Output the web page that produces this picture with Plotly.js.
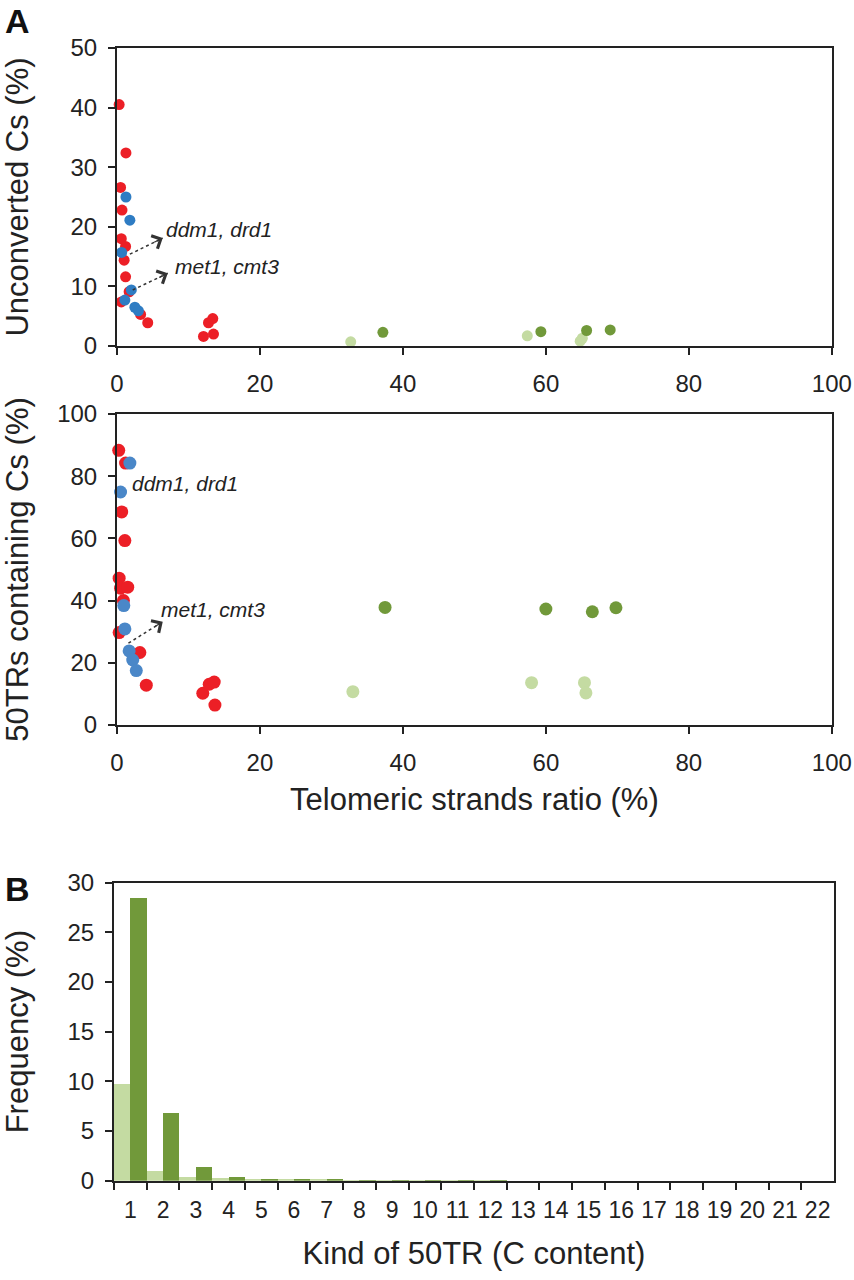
<!DOCTYPE html>
<html>
<head>
<meta charset="utf-8">
<script src="https://cdn.plot.ly/plotly-3.0.1.min.js"></script>
<style>
  html, body { margin: 0; padding: 0; background: #fff; }
  #fig { width: 854px; height: 1280px; }
</style>
</head>
<body>
<div id="fig"></div>
<script>
// ---- panel A, top: unconverted Cs vs telomeric strands ratio ----
var redX1   = [0.3, 1.25, 0.5, 0.7, 0.6, 1.2, 1.0, 1.2, 1.7, 0.6, 3.3, 4.3, 12.1, 12.8, 13.4, 13.5];
var redY1   = [40.5, 32.4, 26.6, 22.8, 18.0, 16.7, 14.4, 11.6, 9.1, 7.4, 5.3, 3.9, 1.6, 3.9, 4.6, 2.0];
var blueX1  = [1.25, 1.8, 0.65, 2.0, 1.1, 2.5, 3.0];
var blueY1  = [25.0, 21.1, 15.7, 9.4, 7.7, 6.5, 5.9];
var lightX1 = [32.7, 57.4, 64.8, 65.1];
var lightY1 = [0.7, 1.7, 0.8, 1.3];
var darkX1  = [37.2, 59.3, 65.7, 69.0];
var darkY1  = [2.3, 2.4, 2.6, 2.7];

// ---- panel A, bottom: 50TRs containing Cs vs telomeric strands ratio ----
var redX2   = [0.24, 1.2, 0.66, 1.1, 0.3, 0.5, 1.5, 0.9, 0.3, 3.2, 4.1, 12.0, 12.9, 13.6, 13.7];
var redY2   = [88.3, 84.2, 68.5, 59.3, 47.2, 44.0, 44.3, 40.0, 29.7, 23.3, 12.8, 10.2, 13.1, 13.8, 6.4];
var blueX2  = [1.8, 0.5, 0.95, 1.1, 1.7, 2.2, 2.7];
var blueY2  = [84.2, 74.9, 38.4, 30.9, 23.8, 20.9, 17.5];
var lightX2 = [33.0, 58.0, 65.4, 65.6];
var lightY2 = [10.7, 13.6, 13.6, 10.3];
var darkX2  = [37.5, 60.0, 66.5, 69.8];
var darkY2  = [37.8, 37.3, 36.4, 37.7];

// ---- panel B: frequency of 50TR kinds ----
var kinds     = ['1','2','3','4','5','6','7','8','9','10','11','12','13','14','15','16','17','18','19','20','21','22'];
var freqLight = [9.7, 1.0, 0.35, 0.3, 0.15, 0.2, 0.15, 0.08, 0.05, 0.03, 0.02, 0.02, 0.01, 0.01, 0.01, 0.01, 0, 0, 0, 0, 0, 0];
var freqDark  = [28.5, 6.8, 1.35, 0.4, 0.15, 0.2, 0.15, 0.06, 0.04, 0.03, 0.02, 0.02, 0.01, 0.01, 0.01, 0.01, 0, 0, 0, 0, 0, 0];

var RED = '#ec1f26', BLUE = '#2e7cc3', BLUE2 = '#4a87c8';
var DARK = '#71993a', LIGHT = '#c4dba2';
var FONT = 'Liberation Sans, Arial, Helvetica, sans-serif';

function dots(x, y, color, size, xa, ya) {
  return {
    x: x, y: y, type: 'scatter', mode: 'markers',
    xaxis: xa, yaxis: ya, cliponaxis: false, showlegend: false,
    marker: {color: color, size: size, line: {width: 0}}
  };
}

var data = [
  dots(redX1, redY1, RED, 11, 'x', 'y'),
  dots(blueX1, blueY1, BLUE, 11, 'x', 'y'),
  dots(lightX1, lightY1, LIGHT, 11, 'x', 'y'),
  dots(darkX1, darkY1, DARK, 11, 'x', 'y'),
  dots(redX2, redY2, RED, 13, 'x2', 'y2'),
  dots(blueX2, blueY2, BLUE2, 13, 'x2', 'y2'),
  dots(lightX2, lightY2, LIGHT, 13, 'x2', 'y2'),
  dots(darkX2, darkY2, DARK, 13, 'x2', 'y2'),
  {x: kinds, y: freqLight, type: 'bar', xaxis: 'x3', yaxis: 'y3',
   marker: {color: LIGHT, line: {width: 0}}, showlegend: false},
  {x: kinds, y: freqDark, type: 'bar', xaxis: 'x3', yaxis: 'y3',
   marker: {color: DARK, line: {width: 0}}, showlegend: false}
];

function axis(extra) {
  var a = {
    showline: true, linecolor: '#222', linewidth: 2, mirror: true,
    ticks: 'outside', ticklen: 7, tickwidth: 2, tickcolor: '#222',
    showgrid: false, zeroline: false, fixedrange: true,
    tickfont: {family: FONT, size: 24, color: '#222'}
  };
  for (var k in extra) a[k] = extra[k];
  return a;
}

var TITLE = {family: FONT, size: 31, color: '#222'};

// open arrow head drawn by a tiny annotation; the dotted shaft is a shape
function head(xr, yr, x, y, ax, ay) {
  return {xref: xr, yref: yr, x: x, y: y, ax: ax, ay: ay, text: '', showarrow: true,
          arrowhead: 4, arrowsize: 2.3, arrowwidth: 1.2, arrowcolor: '#333',
          font: {size: 1}, borderpad: 0};
}
function label(xr, yr, x, y, txt) {
  return {xref: xr, yref: yr, x: x, y: y, xanchor: 'left', yanchor: 'middle',
          text: '<i>' + txt + '</i>', showarrow: false,
          font: {family: FONT, size: 21, color: '#222'}};
}

var layout = {
  width: 854, height: 1280,
  margin: {l: 0, r: 0, t: 0, b: 0},
  paper_bgcolor: '#fff', plot_bgcolor: '#fff',
  font: {family: FONT, color: '#222'},
  barmode: 'group', bargap: 0, bargroupgap: 0,
  xaxis: axis({domain: [0.137, 0.974], anchor: 'y', range: [0, 100], dtick: 20,
               ticklabelstandoff: 8}),
  yaxis: axis({domain: [0.7297, 0.9625], anchor: 'x', range: [0, 50], dtick: 10,
               ticklabelstandoff: 6,
               title: {text: 'Unconverted Cs (%)', font: TITLE, standoff: 34}}),
  xaxis2: axis({domain: [0.137, 0.974], anchor: 'y2', range: [0, 100], dtick: 20,
                ticklabelstandoff: 8,
                title: {text: 'Telomeric strands ratio (%)', font: TITLE, standoff: 14}}),
  yaxis2: axis({domain: [0.4336, 0.6766], anchor: 'x2', range: [0, 100], dtick: 20,
                ticklabelstandoff: 6,
                title: {text: '50TRs containing Cs (%)', font: TITLE, standoff: 24}}),
  xaxis3: axis({domain: [0.1335, 0.9766], anchor: 'y3', type: 'category',
                range: [-0.5, 21.5], tickson: 'boundaries', tickangle: 0,
                ticklabelstandoff: 8, tickfont: {family: FONT, size: 23, color: '#222'},
                title: {text: 'Kind of 50TR (C content)', font: TITLE, standoff: 20}}),
  yaxis3: axis({domain: [0.0776, 0.3104], anchor: 'x3', range: [0, 30], dtick: 5,
                ticklabelstandoff: 6,
                title: {text: 'Frequency (%)', font: TITLE, standoff: 34}}),
  shapes: [
    {type: 'line', xref: 'x', yref: 'y', x0: 1.8, y0: 15.4, x1: 6.4, y1: 18.1,
     line: {color: '#333', width: 1.5, dash: 'dot'}},
    {type: 'line', xref: 'x', yref: 'y', x0: 2.2, y0: 9.4, x1: 7.1, y1: 12.2,
     line: {color: '#333', width: 1.5, dash: 'dot'}},
    {type: 'line', xref: 'x2', yref: 'y2', x0: 1.6, y0: 26.3, x1: 6.4, y1: 33.2,
     line: {color: '#333', width: 1.5, dash: 'dot'}}
  ],
  annotations: [
    {xref: 'paper', yref: 'paper', x: 0.004, y: 1.0, xanchor: 'left', yanchor: 'top',
     text: '<b>A</b>', showarrow: false, font: {family: FONT, size: 34, color: '#111'}},
    {xref: 'paper', yref: 'paper', x: 0.004, y: 0.322, xanchor: 'left', yanchor: 'top',
     text: '<b>B</b>', showarrow: false, font: {family: FONT, size: 34, color: '#111'}},
    head('x', 'y', 6.4, 18.1, -9, 4.4),
    head('x', 'y', 7.1, 12.2, -9, 4.4),
    head('x2', 'y2', 6.4, 33.2, -8.5, 5.4),
    label('x', 'y', 6.6, 19.5, 'ddm1, drd1'),
    label('x', 'y', 7.8, 13.3, 'met1, cmt3'),
    label('x2', 'y2', 1.8, 77.5, 'ddm1, drd1'),
    label('x2', 'y2', 5.9, 37.0, 'met1, cmt3')
  ]
};

Plotly.newPlot('fig', data, layout, {displayModeBar: false, staticPlot: true});
</script>
</body>
</html>
